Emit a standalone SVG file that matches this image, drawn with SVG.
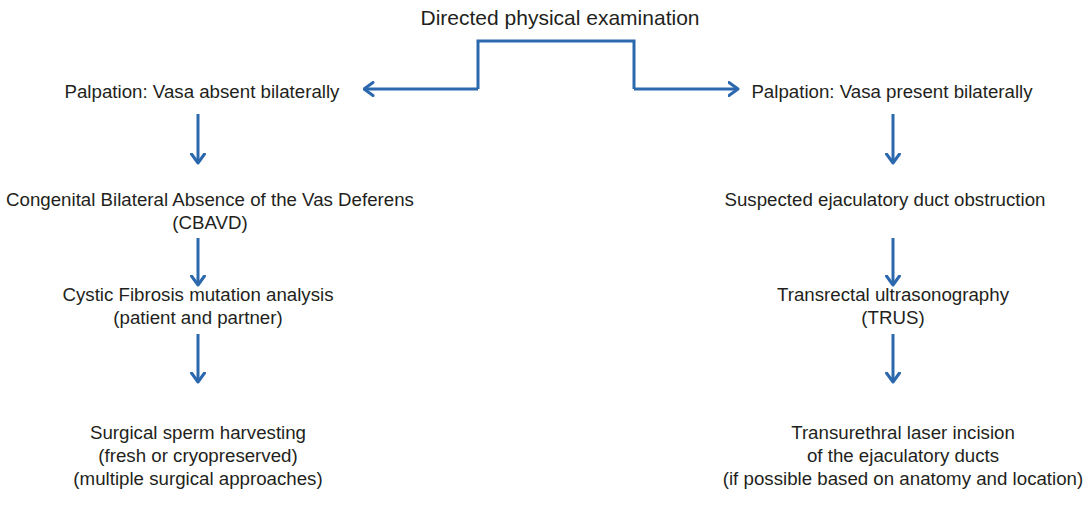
<svg xmlns="http://www.w3.org/2000/svg" width="1090" height="506" viewBox="0 0 1090 506">
<style>
text{font-family:"Liberation Sans",Arial,sans-serif;font-size:18.7px;fill:#231f20;text-anchor:middle}
.t{font-size:21px}
.c{fill:none;stroke:#2c68ad;stroke-width:3;stroke-linejoin:miter}
</style>
<defs>
<marker id="ah" viewBox="0 0 12 16" refX="10.5" refY="8" markerWidth="12" markerHeight="16" markerUnits="userSpaceOnUse" orient="auto">
<path d="M1.5,1.5 L10.5,8 L1.5,14.5" fill="none" stroke="#2c68ad" stroke-width="3" stroke-linecap="round" stroke-linejoin="round"/>
</marker>
</defs>
<rect width="1090" height="506" fill="#ffffff"/>
<g id="connectors">
<polyline class="c" points="478,89 478,41 634,41 634,89" />
<line class="c" x1="478" y1="89" x2="364" y2="89" marker-end="url(#ah)"/>
<line class="c" x1="634" y1="89" x2="738" y2="89" marker-end="url(#ah)"/>
<line class="c" x1="198" y1="114" x2="198" y2="163" marker-end="url(#ah)"/>
<line class="c" x1="198" y1="238" x2="198" y2="285" marker-end="url(#ah)"/>
<line class="c" x1="198" y1="334" x2="198" y2="382" marker-end="url(#ah)"/>
<line class="c" x1="893" y1="114" x2="893" y2="163" marker-end="url(#ah)"/>
<line class="c" x1="893" y1="238" x2="893" y2="285" marker-end="url(#ah)"/>
<line class="c" x1="893" y1="334" x2="893" y2="382" marker-end="url(#ah)"/>
</g>
<g id="n0"><text class="t" x="560" y="25">Directed physical examination</text></g>
<g id="n1"><text x="202" y="98">Palpation: Vasa absent bilaterally</text></g>
<g id="n2"><text x="210" y="206">Congenital Bilateral Absence of the Vas Deferens</text><text x="210" y="229">(CBAVD)</text></g>
<g id="n3"><text x="198" y="301">Cystic Fibrosis mutation analysis</text><text x="198" y="324">(patient and partner)</text></g>
<g id="n4"><text x="198" y="439">Surgical sperm harvesting</text><text x="198" y="462">(fresh or cryopreserved)</text><text x="198" y="485">(multiple surgical approaches)</text></g>
<g id="n5"><text x="892" y="98">Palpation: Vasa present bilaterally</text></g>
<g id="n6"><text x="885" y="206">Suspected ejaculatory duct obstruction</text></g>
<g id="n7"><text x="893" y="301">Transrectal ultrasonography</text><text x="893" y="324">(TRUS)</text></g>
<g id="n8"><text x="903" y="439">Transurethral laser incision</text><text x="903" y="462">of the ejaculatory ducts</text><text x="903" y="485">(if possible based on anatomy and location)</text></g>
</svg>
